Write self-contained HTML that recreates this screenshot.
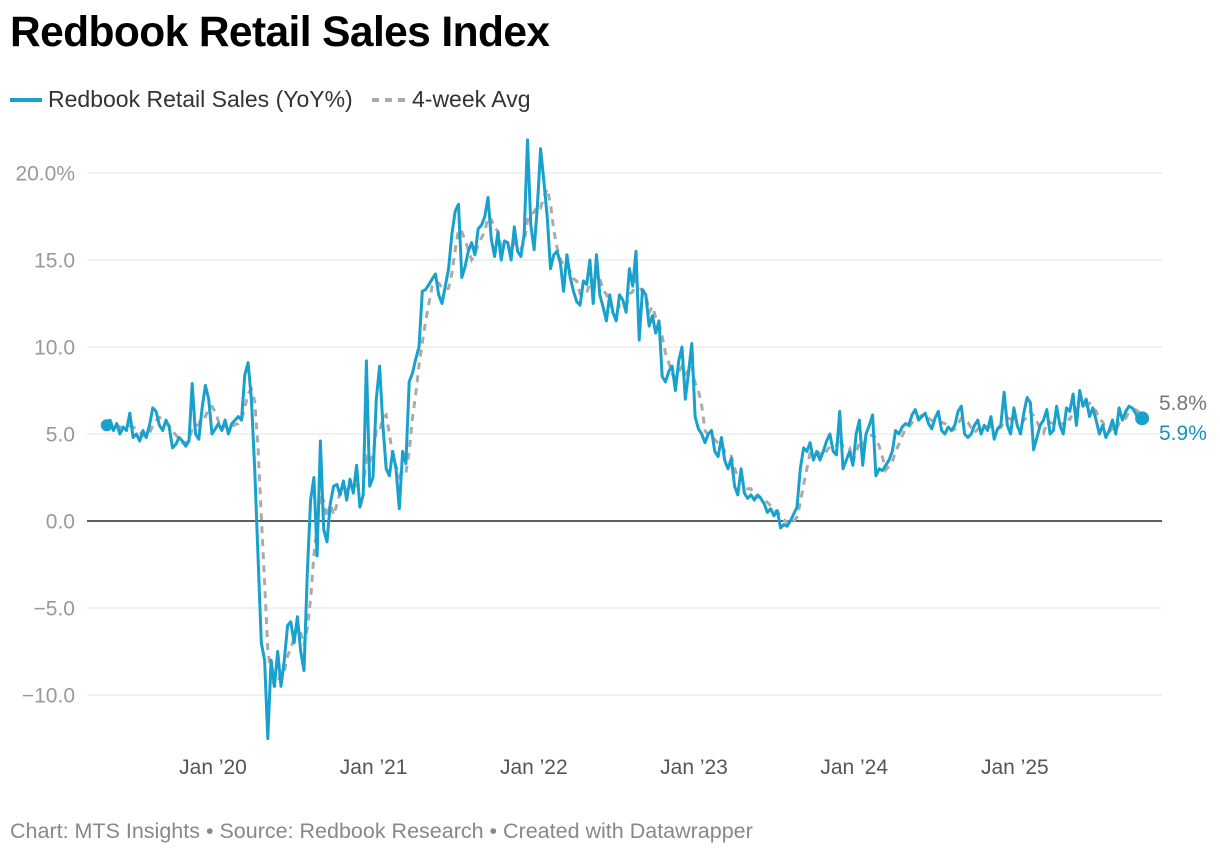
<!DOCTYPE html>
<html><head><meta charset="utf-8"><style>
body{margin:0;background:#fff;font-family:"Liberation Sans",Arial,sans-serif;}
#wrap{position:relative;width:1220px;height:856px;overflow:hidden}
h1{position:absolute;left:10px;top:9px;margin:0;font-size:42.5px;font-weight:700;color:#000;letter-spacing:-0.6px}
.leg{position:absolute;top:86px;font-size:23px;color:#333;display:flex;align-items:center}
.foot{position:absolute;left:10px;top:819px;font-size:21.5px;color:#888}
</style></head><body>
<div id="wrap">
<h1>Redbook Retail Sales Index</h1>
<div class="leg" style="left:10px"><span style="display:inline-block;width:32px;height:4px;background:#18a1cd;margin-right:6px"></span>Redbook Retail Sales (YoY%)</div>
<div class="leg" style="left:372px"><svg width="34" height="6" style="margin-right:6px"><line x1="0" y1="3" x2="34" y2="3" stroke="#aaa" stroke-width="4" stroke-dasharray="7,6"/></svg>4-week Avg</div>
<svg id="chart" width="1220" height="856" style="position:absolute;left:0;top:0"></svg>
<div class="foot">Chart: MTS Insights • Source: Redbook Research • Created with Datawrapper</div>
</div>
<script>
const yTicks=[20,15,10,5,0,-5,-10];
const yTickLabels=["20.0%","15.0","10.0","5.0","0.0","\u22125.0","\u221210.0"];
const xTickYears=[2020,2021,2022,2023,2024,2025];
const xTickLabels=["Jan \u201920","Jan \u201921","Jan \u201922","Jan \u201923","Jan \u201924","Jan \u201925"];
const startDate="2019-05-04";
const endDate="2025-10-18";
const sales=[5.5,5.8,5.2,5.6,5.0,5.4,5.2,6.2,4.8,5.0,4.6,5.2,4.8,5.5,6.5,6.3,5.5,5.2,5.8,5.4,4.2,4.4,4.8,4.6,4.3,4.6,7.9,5.0,4.7,6.5,7.8,7.0,5.0,5.3,5.6,5.2,5.8,5.0,5.6,5.8,6.0,5.8,8.4,9.1,7.0,3.0,
-2,-7,-8,-12.5,-8,-9.5,-7.5,-9.5,-8,-6,-5.8,-7,-5.5,-7.5,-8.6,
-3,1.2,2.5,-2,4.6,-0.5,-1.2,1.0,2.0,2.1,1.5,2.3,1.2,2.4,1.6,3.2,0.8,1.5,9.2,
2.0,2.5,7.0,8.9,5.5,3.0,2.6,4.0,3.0,0.7,
4.0,3.3,8.0,8.5,9.3,10.0,13.2,
13.3,13.6,13.9,14.2,13.0,12.5,13.5,14.5,16.5,17.8,18.2,14.0,
14.6,15.5,16.0,15.3,16.8,17.0,17.5,18.6,16.2,15.2,16.6,15.0,16.1,16.0,15.0,16.9,15.5,15.2,16.5,21.9,
17.0,15.6,18.0,21.4,19.5,17.5,14.5,15.3,15.5,14.8,13.2,15.3,14.0,13.2,12.6,12.4,13.8,13.6,15.0,12.5,15.3,13.0,12.3,11.5,13.0,12.0,11.5,13.0,12.7,12.0,14.5,13.5,15.5,10.4,
13.3,13.0,11.2,11.8,10.8,11.5,8.3,8.0,8.6,8.9,7.5,9.2,10.0,7.0,8.5,10.2,6.0,5.3,5.0,4.5,5.0,5.2,4.0,3.7,4.8,3.5,3.0,3.6,2.0,1.5,3.0,1.6,1.3,1.5,1.2,1.5,1.3,1.0,0.5,0.7,0.3,0.6,-0.4,-0.2,-0.3,0.0,0.4,0.8,
3.0,4.2,4.0,4.5,3.5,4.0,3.5,4.0,4.6,5.0,4.0,3.8,6.3,3.0,3.5,4.0,3.2,5.0,5.8,3.2,5.0,5.5,6.1,2.6,3.0,2.9,3.2,3.5,4.0,5.2,5.0,5.4,5.6,5.5,6.1,6.4,5.8,6.0,6.2,5.6,5.3,5.9,6.3,5.2,5.0,5.4,5.2,5.5,6.3,6.6,5.0,4.8,5.0,5.5,5.8,5.0,5.5,5.2,6.0,4.7,5.3,5.5,7.4,5.5,5.0,6.5,5.5,5.0,6.2,7.1,6.8,4.1,4.8,5.5,5.8,6.4,5.0,5.2,6.6,5.5,5.0,6.5,6.3,7.3,5.5,7.5,6.6,7.0,6.0,6.5,5.8,5.0,5.5,4.8,5.2,5.8,5.0,6.5,5.8,6.3,6.6,6.5,6.2,5.8,5.9];
const avgEndLabel=5.8;

const NS="http://www.w3.org/2000/svg";
const svg=document.getElementById('chart');
const y=v=>521-v*17.4;
const t0=new Date("2020-01-01").getTime();
const x=d=>213+(d.getTime()-t0)/(365.25*864e5)*160.3;
const s0=new Date(startDate).getTime(), s1=new Date(endDate).getTime();
const dateAt=i=>new Date(s0+i*(s1-s0)/(sales.length-1));
function mk(tag,attrs){const e=document.createElementNS(NS,tag);for(const k in attrs)e.setAttribute(k,attrs[k]);svg.appendChild(e);return e;}
yTicks.forEach((v,i)=>{
  const g=mk('line',{x1:87,x2:1162,y1:y(v),y2:y(v),stroke:v===0?'#000':'#e3e3e3','stroke-width':v===0?1.3:1});
  
  
  const t=mk('text',{x:75,y:y(v)+7.5,'font-size':21,fill:'#999','text-anchor':'end'});
  t.textContent=yTickLabels[i];
  
  
});
xTickYears.forEach((yr,i)=>{
  const t=mk('text',{x:x(new Date(yr+"-01-01")),y:774,'font-size':21,fill:'#555','text-anchor':'middle'});
  t.textContent=xTickLabels[i];
  
  
});
const avg=sales.map((v,i)=>{const s=sales.slice(Math.max(0,i-3),i+1);return s.reduce((a,b)=>a+b,0)/s.length;});
const ap=avg.map((v,i)=>x(dateAt(i)).toFixed(1)+','+y(v).toFixed(1)).join(' ');
const al=mk('polyline',{points:ap,fill:'none',stroke:'#aaa','stroke-width':3,'stroke-dasharray':'7,6'});


const sp=sales.map((v,i)=>x(dateAt(i)).toFixed(1)+','+y(v).toFixed(1)).join(' ');
const sl=mk('polyline',{points:sp,fill:'none',stroke:'#18a1cd','stroke-width':3,'stroke-linejoin':'round'});


const n=sales.length-1;
const d1=mk('circle',{cx:x(dateAt(0)),cy:y(sales[0]),r:6,fill:'#18a1cd'});


const d2=mk('circle',{cx:x(dateAt(n)),cy:y(sales[n]),r:7,fill:'#18a1cd'});


const l1=mk('text',{x:1159,y:410,'font-size':21,fill:'#777'});
l1.textContent=avgEndLabel.toFixed(1)+'%';


const l2=mk('text',{x:1159,y:440,'font-size':21,fill:'#1a8fb8'});
l2.textContent=sales[n].toFixed(1)+'%';


</script>
</body></html>
